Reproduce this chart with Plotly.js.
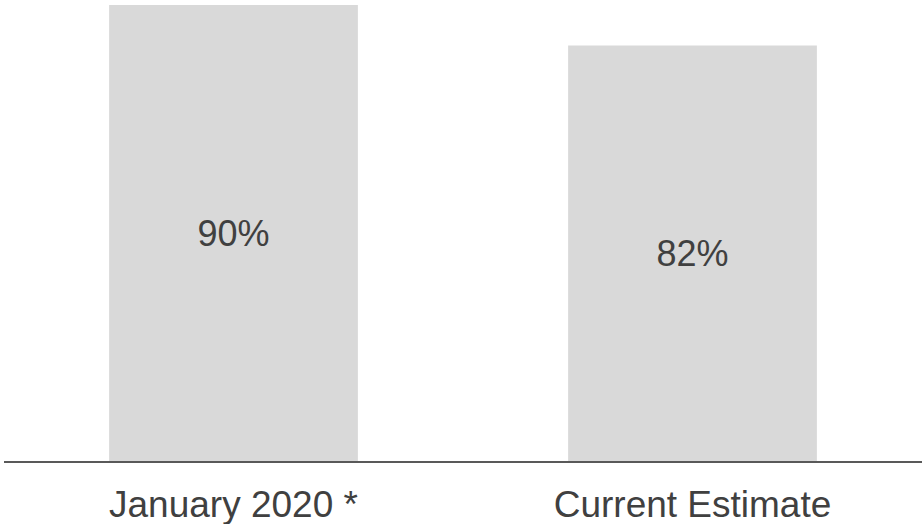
<!DOCTYPE html>
<html>
<head>
<meta charset="utf-8">
<script src="https://cdn.plot.ly/plotly-3.0.1.min.js"></script>
<style>html,body{margin:0;padding:0;background:#fff;}#chart{width:922px;height:524px;}</style>
</head>
<body>
<div id="chart"></div>
<script>
const categories = ["January 2020 *", "Current Estimate"];
const values = [90, 82];
const valueLabels = ["90%", "82%"];

const trace = {
  type: 'bar',
  x: categories,
  y: values,
  text: valueLabels,
  textposition: 'inside',
  insidetextanchor: 'middle',
  textangle: 0,
  textfont: {family: 'Liberation Sans, Arial, sans-serif', size: 36, color: '#404040'},
  marker: {color: '#d9d9d9', line: {width: 0}},
  hoverinfo: 'none'
};

const layout = {
  width: 922, height: 524,
  margin: {l: 4, r: 0, t: 5, b: 63},
  paper_bgcolor: '#ffffff',
  plot_bgcolor: '#ffffff',
  bargap: 0.458,
  showlegend: false,
  xaxis: {
    type: 'category',
    showgrid: false,
    zeroline: false,
    showline: true,
    linecolor: '#595959',
    linewidth: 2,
    ticks: '',
    ticklabelstandoff: 10,
    tickfont: {family: 'Liberation Sans, Arial, sans-serif', size: 37, color: '#404040'}
  },
  yaxis: {
    range: [0, 90],
    visible: false,
    showgrid: false,
    zeroline: false,
    fixedrange: true
  }
};

Plotly.newPlot('chart', [trace], layout, {displayModeBar: false, staticPlot: true});
</script>
</body>
</html>
